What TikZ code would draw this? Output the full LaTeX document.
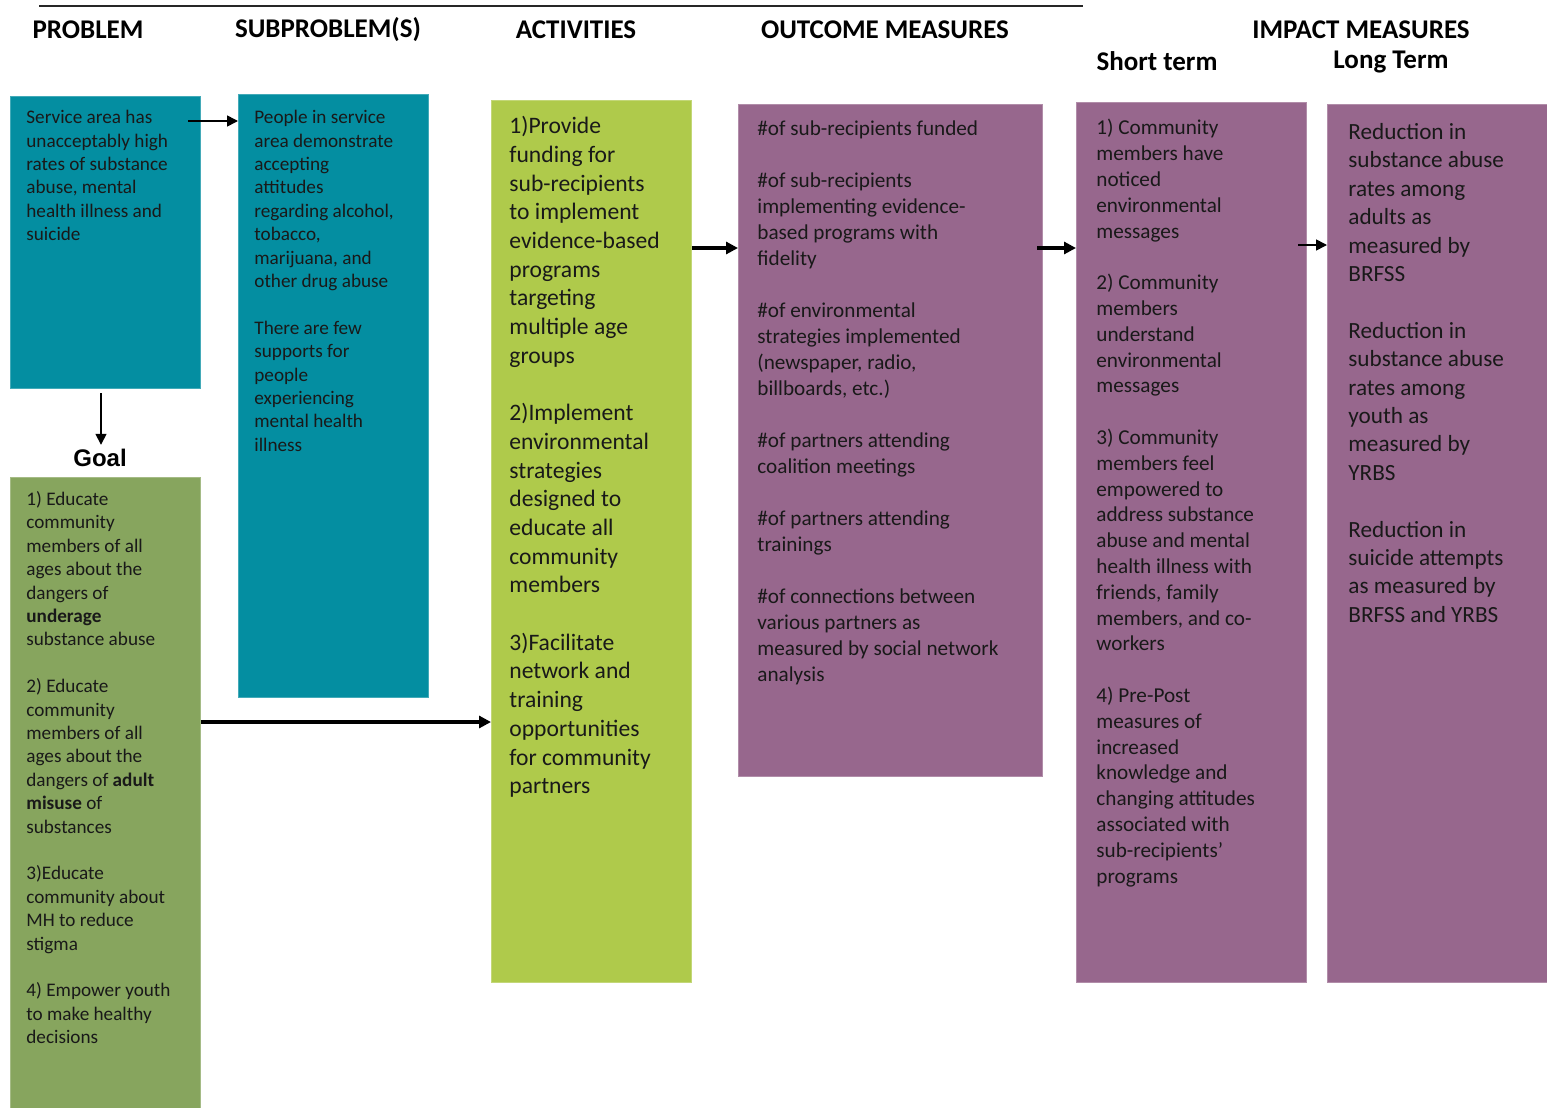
\documentclass[tikz,border=0pt]{standalone}
\usepackage{fontspec}
\setmainfont{Carlito}
\newfontfamily\goalfont{Liberation Sans}
\usetikzlibrary{arrows.meta}

\definecolor{tealbox}{RGB}{4,142,161}
\definecolor{olivebox}{RGB}{135,165,94}
\definecolor{limebox}{RGB}{175,202,75}
\definecolor{plumbox}{RGB}{151,103,141}

\tikzset{
  colbox/.style={fill=#1, draw=#1!75!white, line width=0.4pt, inner sep=0pt,
    anchor=north west},
  hd/.style={font=\bfseries\fontsize{13.5}{16}\selectfont, inner sep=1pt},
  txt/.style={anchor=north west, inner sep=0pt, align=left, text=black!90},
  smalltxt/.style={txt, font=\fontsize{9.6}{11.7}\selectfont},
  arr/.style={-{Triangle[length=6pt,width=6pt]}, line width=1.6pt},
  thinarr/.style={-{Triangle[length=5.5pt,width=5.5pt]}, line width=0.8pt},
}

\begin{document}
\begin{tikzpicture}[x=0.5pt,y=-0.5pt]
\useasboundingbox (0,0) rectangle (1547,1108);

% rule over the headers
\coordinate (r1) at (39,6);
\coordinate (r2) at (1083,6);
\draw[line width=1pt, black!85] (r1) -- (r2);

% column headers
\node[hd] (hprob) at (88,30) {PROBLEM};
\node[hd] (hsub) at (328,30) {SUBPROBLEM(S)};
\node[hd] (hact) at (576,30) {ACTIVITIES};
\node[hd] (hout) at (885,30) {OUTCOME MEASURES};
\node[hd] (himp) at (1361,30) {IMPACT MEASURES};
\node[hd] (hshort) at (1157,61) {Short term};
\node[hd] (hlong) at (1391,62) {Long Term};

% coloured boxes
\node[colbox=tealbox, minimum width=95pt, minimum height=146pt] (prob) at (10,96) {};
\node[colbox=tealbox, minimum width=95pt, minimum height=301.5pt] (sub) at (238,94) {};
\node[colbox=olivebox, minimum width=95pt, minimum height=316pt] (goal) at (10,477) {};
\node[colbox=limebox, minimum width=100pt, minimum height=441pt] (act) at (491,100) {};
\node[colbox=plumbox, minimum width=152pt, minimum height=336pt] (out) at (738,104) {};
\node[colbox=plumbox, minimum width=115pt, minimum height=440pt] (short) at (1076,102) {};
\node[colbox=plumbox, minimum width=110pt, minimum height=439pt] (long) at (1327,104) {};

\node[font=\goalfont\bfseries\fontsize{12}{14}\selectfont, inner sep=2pt] (goallbl) at (100,458) {Goal};

% box texts
\node[smalltxt] (probtxt) at (26,110) {Service area has\\ unacceptably high\\ rates of substance\\ abuse, mental\\ health illness and\\ suicide};

\node[smalltxt] (subtxt) at (254,110) {People in service\\ area demonstrate\\ accepting\\ attitudes\\ regarding alcohol,\\ tobacco,\\ marijuana, and\\ other drug abuse\\[11.7pt]
There are few\\ supports for\\ people\\ experiencing\\ mental health\\ illness};

\node[smalltxt] (goaltxt) at (26,491) {1) Educate\\ community\\ members of all\\ ages about the\\ dangers of\\ \textbf{underage}\\ substance abuse\\[11.7pt]
2) Educate\\ community\\ members of all\\ ages about the\\ dangers of \textbf{adult}\\ \textbf{misuse} of\\ substances\\[11.7pt]
3)Educate\\ community about\\ MH to reduce\\ stigma\\[11.7pt]
4) Empower youth\\ to make healthy\\ decisions};

\node[txt, font=\fontsize{11.8}{14.35}\selectfont] (acttxt) at (509,116) {1)Provide\\ funding for\\ sub-recipients\\ to implement\\ evidence-based\\ programs\\ targeting\\ multiple age\\ groups\\[14.35pt]
2)Implement\\ environmental\\ strategies\\ designed to\\ educate all\\ community\\ members\\[14.35pt]
3)Facilitate\\ network and\\ training\\ opportunities\\ for community\\ partners};

\node[txt, font=\fontsize{10.6}{13}\selectfont] (outtxt) at (757,120) {\#of sub-recipients funded\\[13pt]
\#of sub-recipients\\ implementing evidence-\\ based programs with\\ fidelity\\[13pt]
\#of environmental\\ strategies implemented\\ (newspaper, radio,\\ billboards, etc.)\\[13pt]
\#of partners attending\\ coalition meetings\\[13pt]
\#of partners attending\\ trainings\\[13pt]
\#of connections between\\ various partners as\\ measured by social network\\ analysis};

\node[txt, font=\fontsize{10.6}{12.9}\selectfont] (shorttxt) at (1096,119) {1) Community\\ members have\\ noticed\\ environmental\\ messages\\[12.9pt]
2) Community\\ members\\ understand\\ environmental\\ messages\\[12.9pt]
3) Community\\ members feel\\ empowered to\\ address substance\\ abuse and mental\\ health illness with\\ friends, family\\ members, and co-\\ workers\\[12.9pt]
4) Pre-Post\\ measures of\\ increased\\ knowledge and\\ changing attitudes\\ associated with\\ sub-recipients'\\ programs};

\node[txt, font=\fontsize{11.6}{14.2}\selectfont] (longtxt) at (1348,123) {Reduction in\\ substance abuse\\ rates among\\ adults as\\ measured by\\ BRFSS\\[14.2pt]
Reduction in\\ substance abuse\\ rates among\\ youth as\\ measured by\\ YRBS\\[14.2pt]
Reduction in\\ suicide attempts\\ as measured by\\ BRFSS and YRBS};

% connectors
\coordinate (p1) at (188,121);
\draw[thinarr] (p1) -- (p1 -| sub.west);
\coordinate (p2) at (101,393);
\draw[thinarr] (p2) -- (p2 |- goallbl.north);
\coordinate (p3) at (0,722);
\draw[arr] (goal.east |- p3) -- (act.west |- p3);
\coordinate (p4) at (0,248);
\draw[arr] (act.east |- p4) -- (out.west |- p4);
\coordinate (p5) at (1037,248);
\draw[arr] (p5) -- (p5 -| short.west);
\coordinate (p6) at (1298,245);
\draw[thinarr] (p6) -- (p6 -| long.west);

\end{tikzpicture}
\end{document}
